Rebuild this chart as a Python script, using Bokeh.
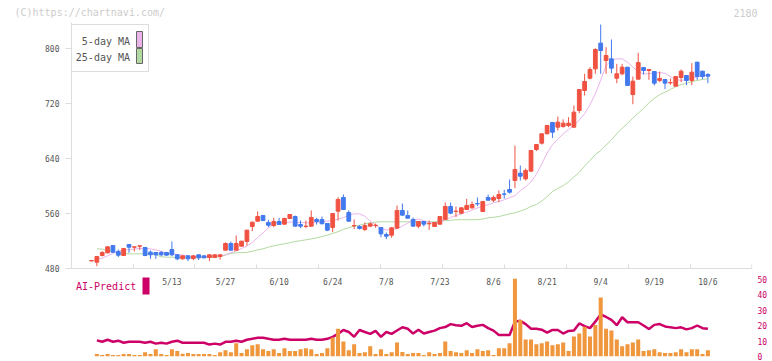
from bokeh.plotting import figure
from bokeh.layouts import column
from bokeh.models import Range1d, LinearAxis, FixedTicker, Span
from bokeh.core.properties import value
from bokeh.embed import file_html
from bokeh.resources import INLINE

# ---------------- data ----------------
header_left = "(C)https://chartnavi.com/"
header_right = "2180"
date_labels = ["5/13", "5/27", "6/10", "6/24", "7/8", "7/23", "8/6", "8/21", "9/4", "9/19", "10/6"]
date_label_idx = [15, 25, 35, 45, 55, 65, 75, 85, 95, 105, 115]
price_ticks = [480, 560, 640, 720, 800]
vol_ticks = [0, 10, 20, 30, 40, 50]
x_tick_pos = [7.84, 19.22, 30.78, 42.35, 53.92, 65.49, 77.05, 88.62, 100.19, 111.75, 123.2]

opens = [491.0, 489.2, 498.9, 502.8, 513.5, 504.7, 498.9, 514.9, 511.0, 512.5,
         510.5, 503.8, 503.3, 503.3, 503.3, 507.6, 499.9, 494.1, 498.4, 494.5,
         499.9, 498.4, 496.0, 496.0, 497.5, 506.7, 516.4, 506.7, 512.5, 519.3,
         541.1, 548.8, 557.1, 546.9, 542.5, 548.4, 544.5, 552.7, 555.6, 544.0,
         541.1, 541.6, 551.3, 551.3, 545.5, 539.6, 563.4, 583.3, 561.5, 542.0,
         541.1, 536.7, 541.6, 542.5, 539.6, 529.5, 528.5, 538.7, 564.4, 557.1,
         551.3, 541.6, 548.4, 545.0, 541.1, 544.5, 551.3, 570.2, 562.9, 560.5,
         565.8, 568.2, 574.5, 562.9, 583.3, 579.4, 581.8, 588.4, 594.9, 608.0,
         618.7, 610.4, 621.6, 653.1, 662.3, 676.0, 692.4, 685.6, 686.5, 688.0,
         685.6, 709.8, 738.9, 756.8, 770.4, 807.8, 782.5, 785.0, 756.8, 763.2,
         772.8, 733.1, 755.4, 772.4, 768.0, 766.5, 753.5, 754.9, 750.0, 745.2,
         757.8, 760.7, 753.5, 780.1, 767.0, 762.2]
highs = [491.8, 497.5, 505.2, 512.0, 514.0, 507.6, 509.5, 515.2, 511.8, 513.2,
         511.0, 506.2, 504.0, 505.5, 504.0, 519.3, 501.0, 498.8, 498.8, 499.0,
         500.5, 499.0, 500.3, 500.3, 500.3, 518.0, 519.3, 528.0, 520.0, 536.0,
         548.0, 562.9, 557.5, 550.8, 553.7, 553.7, 554.0, 559.0, 557.0, 549.8,
         549.8, 564.4, 553.7, 555.6, 546.0, 560.5, 583.8, 587.6, 564.4, 551.3,
         543.0, 546.9, 546.9, 545.5, 540.0, 532.4, 540.0, 571.6, 574.5, 564.4,
         554.2, 549.0, 549.0, 549.8, 547.5, 556.0, 576.0, 576.0, 570.2, 569.0,
         581.3, 577.5, 583.3, 578.0, 587.6, 586.2, 593.5, 594.4, 609.5, 658.9,
         629.8, 625.5, 652.0, 661.0, 676.5, 689.0, 693.0, 701.1, 697.0, 700.0,
         717.1, 741.0, 763.2, 772.8, 800.5, 834.9, 801.9, 813.1, 777.7, 777.7,
         773.0, 759.2, 793.7, 773.0, 770.0, 767.0, 766.5, 755.0, 756.4, 760.0,
         769.5, 761.0, 778.7, 780.5, 767.5, 764.1]
lows = [490.6, 483.4, 497.5, 502.0, 503.0, 496.5, 498.5, 502.8, 504.7, 507.0,
        498.0, 494.0, 494.0, 498.0, 499.0, 498.0, 492.0, 493.0, 490.7, 492.0,
        492.5, 495.0, 490.7, 495.5, 493.0, 506.0, 506.0, 506.0, 512.0, 513.5,
        534.3, 548.0, 548.8, 540.1, 540.1, 543.5, 544.0, 552.0, 541.0, 538.7,
        538.7, 541.0, 544.0, 544.5, 534.3, 532.8, 549.8, 565.0, 548.0, 537.2,
        536.7, 534.3, 541.0, 539.2, 525.6, 522.7, 524.6, 538.0, 557.0, 553.0,
        541.0, 538.7, 541.1, 536.2, 540.5, 544.0, 551.0, 559.0, 554.7, 559.0,
        565.0, 567.0, 570.7, 562.0, 579.0, 576.5, 576.5, 581.8, 589.0, 596.8,
        608.0, 608.0, 621.0, 650.7, 660.4, 675.0, 670.0, 680.7, 685.0, 685.6,
        685.0, 706.0, 731.6, 754.9, 763.2, 763.2, 763.2, 764.1, 749.6, 761.0,
        746.0, 719.0, 755.0, 762.2, 754.4, 746.2, 751.0, 740.8, 747.2, 745.0,
        751.0, 746.7, 746.7, 754.4, 755.4, 749.6]
closes = [491.5, 497.5, 503.3, 511.5, 503.8, 499.4, 509.1, 511.0, 511.5, 513.0,
          498.9, 499.9, 499.9, 499.9, 499.4, 499.9, 494.1, 498.4, 494.1, 498.4,
          495.5, 495.5, 499.9, 499.9, 499.9, 516.4, 506.7, 516.4, 519.8, 535.8,
          547.4, 555.6, 549.8, 543.0, 548.4, 544.0, 552.7, 558.5, 541.6, 541.6,
          541.6, 554.2, 548.4, 545.0, 535.8, 560.0, 580.4, 565.8, 548.8, 542.5,
          538.2, 542.5, 545.0, 543.0, 530.4, 527.0, 539.2, 564.4, 557.6, 553.2,
          541.6, 548.4, 544.5, 545.5, 546.9, 555.6, 570.2, 560.5, 563.4, 568.2,
          571.6, 573.1, 574.0, 577.5, 579.4, 583.3, 587.6, 588.1, 591.0, 624.0,
          614.3, 622.5, 651.6, 660.4, 675.9, 688.0, 678.3, 692.9, 691.4, 691.4,
          707.4, 740.4, 752.0, 769.5, 798.5, 797.1, 789.8, 771.4, 763.2, 772.8,
          746.2, 752.5, 779.6, 768.0, 769.5, 749.6, 756.4, 749.6, 750.5, 759.2,
          767.0, 753.5, 765.6, 759.2, 759.2, 759.8]

# series that start at the second candle
ma5 = [493.5, 495.0, 498.5, 502.0, 505.0, 506.7, 507.5, 508.3, 509.1, 509.5,
       508.6, 507.0, 505.0, 502.5, 501.0, 500.5, 499.5, 498.2, 497.3, 497.0,
       497.0, 497.3, 498.0, 498.5, 500.0, 503.0, 505.5, 509.0, 513.0, 518.0,
       525.0, 532.0, 539.0, 545.0, 547.4, 547.4, 547.4, 547.0, 547.0, 546.5,
       546.5, 547.0, 548.0, 549.0, 549.5, 551.5, 554.0, 557.5, 559.5, 559.5,
       556.0, 549.0, 543.0, 538.0, 536.2, 536.0, 538.0, 542.0, 546.0, 550.0,
       552.0, 549.5, 547.0, 546.4, 548.0, 550.5, 554.5, 557.0, 559.5, 562.0,
       565.0, 568.0, 570.5, 573.0, 575.5, 577.5, 580.0, 583.0, 586.0, 593.0,
       599.0, 606.0, 617.0, 632.0, 648.0, 660.0, 668.0, 676.0, 682.0, 688.0,
       696.0, 705.0, 718.0, 734.0, 754.0, 775.0, 783.0, 785.0, 785.0, 780.0,
       773.0, 766.0, 763.0, 763.5, 764.0, 765.0, 764.0, 759.0, 755.0, 753.5,
       754.5, 757.0, 759.0, 760.0, 761.0]
ma25 = [508.6, 508.2, 506.0, 504.0, 502.5, 501.8, 501.3, 501.3, 501.3, 501.3,
        501.3, 500.0, 497.0, 496.5, 496.5, 495.8, 495.5, 495.5, 495.5, 496.0,
        496.5, 496.5, 496.5, 497.5, 499.5, 502.0, 502.8, 503.0, 503.5, 505.0,
        507.0, 508.6, 511.0, 513.0, 514.5, 516.0, 517.5, 519.3, 520.5, 521.7,
        523.0, 524.6, 526.5, 528.5, 531.0, 533.5, 537.0, 539.5, 541.5, 543.0,
        545.0, 546.5, 547.4, 547.9, 547.9, 547.9, 547.9, 547.9, 547.9, 547.9,
        547.9, 547.9, 547.9, 547.9, 548.5, 549.5, 550.3, 550.8, 551.0, 551.0,
        551.0, 551.0, 552.0, 553.7, 554.5, 555.6, 557.5, 559.5, 561.0, 563.4,
        566.3, 570.2, 573.1, 578.0, 584.5, 592.0, 596.3, 600.5, 606.0, 613.0,
        620.0, 629.0, 637.0, 645.8, 651.6, 659.5, 667.0, 676.0, 684.0, 691.0,
        699.0, 706.0, 713.0, 721.0, 727.5, 733.0, 736.5, 740.5, 744.5, 747.5,
        749.5, 752.0, 753.5, 755.0, 756.0]
volume = [1.6, 0.9, 1.6, 0.9, 0.9, 1.6, 1.6, 0.9, 0.9, 2.8,
          1.6, 4.7, 1.6, 0.9, 4.7, 3.5, 1.8, 2.2, 1.6, 1.6,
          1.6, 1.6, 0.9, 2.8, 4.1, 2.8, 8.5, 2.2, 4.7, 7.2,
          7.9, 4.7, 3.5, 4.7, 2.2, 5.3, 3.5, 3.5, 4.7, 5.3,
          4.7, 1.6, 2.2, 5.3, 12.3, 17.9, 9.7, 4.1, 7.9, 2.2,
          2.8, 6.6, 1.6, 4.7, 1.6, 2.8, 9.1, 2.9, 1.6, 2.2,
          2.2, 0.9, 2.8, 1.6, 2.2, 9.7, 3.5, 2.8, 2.2, 4.1,
          2.2, 4.7, 3.5, 4.1, 0.9, 5.3, 5.3, 8.5, 50.2, 23.6,
          11.0, 11.0, 7.9, 8.5, 9.7, 7.2, 7.9, 9.1, 3.5, 12.9,
          14.8, 19.2, 12.9, 20.4, 38.1, 17.9, 16.7, 11.0, 6.6, 7.9,
          9.1, 11.0, 3.5, 4.1, 4.7, 2.8, 2.2, 2.2, 2.8, 4.7,
          2.8, 4.7, 4.7, 1.6, 4.1]
ai_predict = [10.4, 9.5, 10.8, 9.5, 10.2, 8.9, 9.5, 9.5, 9.5, 8.9,
              9.5, 8.3, 8.9, 8.3, 9.5, 10.2, 8.9, 8.9, 8.9, 8.9,
              8.9, 7.7, 8.3, 7.7, 9.5, 9.5, 10.2, 9.5, 10.8, 11.4,
              12.1, 12.1, 11.4, 10.8, 10.8, 11.4, 10.8, 10.8, 10.8, 10.8,
              11.4, 10.8, 10.8, 11.4, 12.7, 14.6, 17.1, 15.8, 12.7, 17.1,
              15.8, 14.6, 16.5, 12.7, 15.8, 14.6, 16.8, 18.9, 17.9, 14.8,
              17.3, 14.8, 15.8, 16.7, 18.3, 19.0, 20.9, 20.2, 19.8, 21.5,
              19.0, 19.8, 20.4, 18.3, 16.7, 13.9, 13.9, 13.9, 22.5, 23.0,
              20.9, 17.9, 17.9, 17.3, 15.4, 17.1, 17.1, 14.8, 16.5, 16.7,
              21.3, 19.6, 18.3, 22.5, 27.1, 25.5, 23.6, 20.2, 25.3, 22.1,
              22.1, 22.1, 20.0, 17.7, 20.4, 20.9, 19.4, 18.8, 18.3, 18.8,
              17.5, 18.3, 20.0, 18.3, 17.9]

# ---------------- geometry (pixel -> data helpers, decorations only) ----------------
W, H = 772, 361
HEAD_H = 22
X0, X1 = -3.73, 123.32
Y0, Y1 = 352.0, 837.82
FRAME_LEFT_PX, FRAME_TOP_PX = 71.0, 22.0
PX_PER_X = 5.36
PX_PER_PRICE = 0.6875


def rx(px):
    return X0 + (px - FRAME_LEFT_PX) / PX_PER_X


def ry(py):
    return Y1 - (py - FRAME_TOP_PX) / PX_PER_PRICE


RED = "#f05242"
BLUE = "#4279ee"
ORANGE = "#f0963c"
CRIMSON = "#cc0066"
PINK = "#eab4ea"
GREEN = "#b2d9a0"
MONO = "DejaVu Sans Mono"

# ---------------- header strip ----------------
head = figure(width=W, height=HEAD_H, output_backend="svg", toolbar_location=None,
              x_range=Range1d(0, W), y_range=Range1d(HEAD_H, 0),
              x_axis_location=None, y_axis_location=None,
              min_border=0, outline_line_color=None,
              background_fill_color="white", border_fill_color="white")
try:
    head.frame_align = False
except Exception:
    pass
head.grid.grid_line_color = None
head.text(x=[14, 757], y=[12, 12], text=[header_left, header_right],
          text_align=["left", "right"], text_baseline="middle",
          text_font=value(MONO), text_font_size="10px", text_color="#cccccc")

# ---------------- main chart ----------------
p = figure(width=W, height=H - HEAD_H, output_backend="svg", toolbar_location=None,
           x_range=Range1d(X0, X1), y_range=Range1d(Y0, Y1),
           x_axis_location=None, y_axis_location="left",
           min_border_left=71, min_border_right=20, min_border_top=0, min_border_bottom=5,
           background_fill_color="white", border_fill_color="white",
           outline_line_color=None)
try:
    p.frame_align = False
except Exception:
    pass
p.grid.grid_line_color = None
p.extra_y_ranges = {"vol": Range1d(0, 334 / 1.55)}

ya = p.yaxis[0]
ya.ticker = FixedTicker(ticks=price_ticks)
ya.bounds = (480, Y1)
ya.axis_line_color = "#dddddd"
ya.major_tick_line_color = "#dddddd"
ya.major_tick_out = 6
ya.major_tick_in = 0
ya.minor_tick_line_color = None
ya.major_label_text_font = MONO
ya.major_label_text_font_size = "8px"
ya.major_label_text_color = "#555555"
ya.major_label_standoff = 6

va = LinearAxis(y_range_name="vol", ticker=FixedTicker(ticks=vol_ticks), bounds=(0, 50))
va.axis_line_color = None
va.major_tick_line_color = None
va.minor_tick_line_color = None
va.major_tick_out = 0
va.major_tick_in = 0
va.major_label_text_font = MONO
va.major_label_text_font_size = "8px"
va.major_label_text_color = CRIMSON
va.major_label_standoff = 5
p.add_layout(va, "right")

# date axis line between the two panels
p.add_layout(Span(location=price_ticks[0], dimension="width", line_color="#dddddd", line_width=1))
p.segment(x0=x_tick_pos, y0=[price_ticks[0]] * len(x_tick_pos), x1=x_tick_pos,
          y1=[price_ticks[0] + 4 / PX_PER_PRICE] * len(x_tick_pos), line_color="#dddddd", line_width=1)
p.text(x=date_label_idx, y=[ry(282)] * len(date_labels), text=date_labels,
       text_font=value(MONO), text_font_size="8px", text_color="#555555",
       text_align="center", text_baseline="middle")

N = len(opens)
idx = list(range(N))
sub_idx = list(range(1, N))

# moving averages
p.line(sub_idx, ma25, line_color=GREEN, line_width=1)
p.line(sub_idx, ma5, line_color=PINK, line_width=1)

# candles
colors = [RED if c >= o else BLUE for o, c in zip(opens, closes)]
p.segment(x0=idx, y0=lows, x1=idx, y1=highs, line_color=colors, line_width=1)
p.vbar(x=idx, top=[max(o, c) for o, c in zip(opens, closes)],
       bottom=[min(o, c) for o, c in zip(opens, closes)], width=0.7,
       fill_color=colors, line_color=colors, line_width=1)

# volume + AI predict
p.line(sub_idx, ai_predict, line_color=CRIMSON, line_width=2.5, y_range_name="vol")
p.vbar(x=sub_idx, top=volume, bottom=0, width=0.75, fill_color=ORANGE, line_color=None,
       y_range_name="vol")

# MA legend box (top-left)
p.quad(left=[rx(70.5)], right=[rx(148)], top=[ry(24)], bottom=[ry(71)],
       fill_color="white", line_color="#dddddd", line_width=1)
p.text(x=[rx(129.5), rx(129.5)], y=[ry(41), ry(57.5)], text=["5-day MA", "25-day MA"],
       text_font=value(MONO), text_font_size="10px", text_color="#555555",
       text_align="right", text_baseline="middle")
p.quad(left=[rx(136), rx(136)], right=[rx(142), rx(142)], top=[ry(31), ry(48)],
       bottom=[ry(47), ry(63)], fill_color=[PINK, GREEN], line_color="#666666", line_width=1)

# AI-Predict legend
p.text(x=[rx(75.5)], y=[ry(286)], text=["AI-Predict"], text_font=value(MONO),
       text_font_size="10px", text_color=CRIMSON, text_align="left", text_baseline="middle")
p.quad(left=[rx(142)], right=[rx(149)], top=[ry(277)], bottom=[ry(294)],
       fill_color=CRIMSON, line_color=None)

layout = column(head, p, spacing=0)
open("out.html", "w").write(file_html(layout, INLINE))
